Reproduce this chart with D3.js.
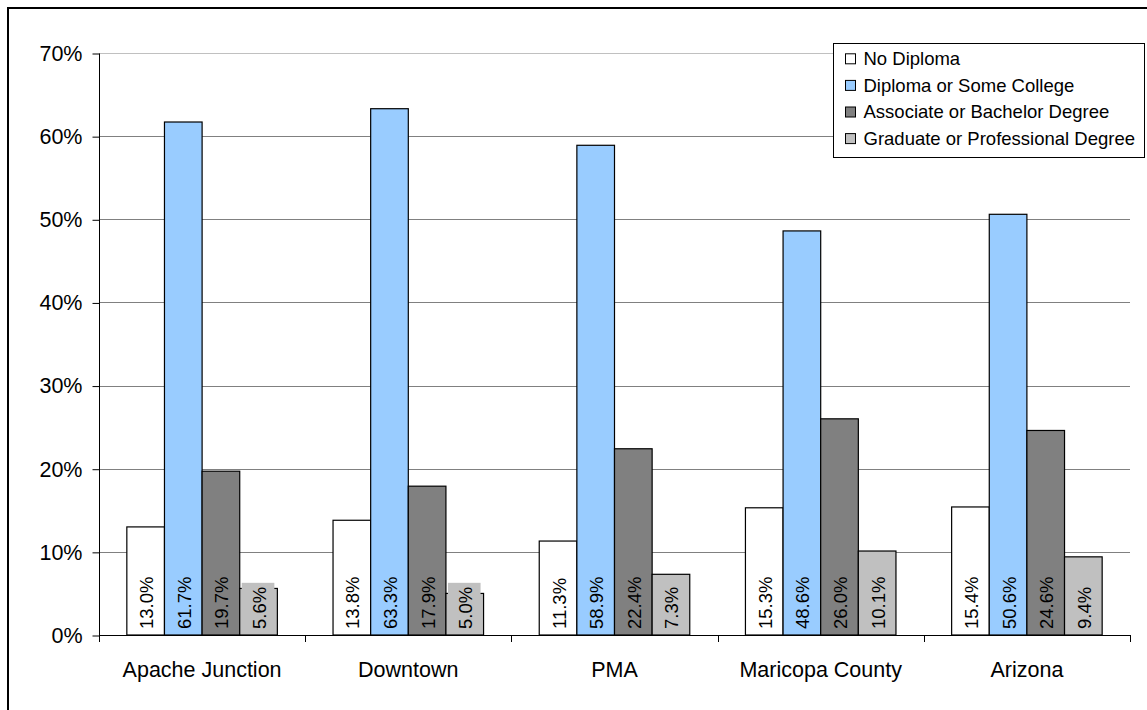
<!DOCTYPE html>
<html><head><meta charset="utf-8">
<script src="https://cdn.jsdelivr.net/npm/d3@7"></script>
<style>html,body{margin:0;padding:0;background:#fff;overflow:hidden}</style>
</head><body>
<svg id="chart" width="1147" height="710"></svg>
<script>
const categories = ["Apache Junction", "Downtown", "PMA", "Maricopa County", "Arizona"];
const seriesNames = ["No Diploma", "Diploma or Some College", "Associate or Bachelor Degree", "Graduate or Professional Degree"];
const noDiploma = [13.0, 13.8, 11.3, 15.3, 15.4];
const diplomaSomeCollege = [61.7, 63.3, 58.9, 48.6, 50.6];
const associateBachelor = [19.7, 17.9, 22.4, 26.0, 24.6];
const graduateProfessional = [5.6, 5.0, 7.3, 10.1, 9.4];
const yTicks = [0, 10, 20, 30, 40, 50, 60, 70];
const colors = ["#ffffff", "#99ccff", "#808080", "#c0c0c0"];

(function () {
const seriesValues = [noDiploma, diplomaSomeCollege, associateBachelor, graduateProfessional];
const font = "'Liberation Sans', Arial, sans-serif";
const svg = d3.select("#chart");

// outer frame
svg.append("rect").attr("x", 8).attr("y", 8).attr("width", 1160).attr("height", 730)
  .attr("fill", "none").attr("stroke", "#000").attr("stroke-width", 2);

const pLeft = 99, pRight = 1130, pTop = 53, pBottom = 635;
const x0 = d3.scaleBand().domain(categories).range([pLeft, pRight]).padding(0);
const x1 = d3.scaleBand().domain(d3.range(seriesNames.length))
  .range([x0.bandwidth() * 0.135, x0.bandwidth() * 0.865]).padding(0);
const y = d3.scaleLinear().domain([0, 70]).range([pBottom, pTop]);

// gridlines
svg.append("g").selectAll("line").data(yTicks.filter(d => d > 0)).join("line")
  .attr("x1", pLeft).attr("x2", pRight)
  .attr("y1", d => Math.round(y(d)) + 0.5).attr("y2", d => Math.round(y(d)) + 0.5)
  .attr("stroke", d => d === 70 ? "#c0c0c0" : "#808080").attr("stroke-width", 1);

// y axis
const yAxis = d3.axisLeft(y).tickValues(yTicks).tickFormat(d => d + "%").tickSize(7).tickPadding(10);
const gy = svg.append("g").attr("transform", `translate(${pLeft + 0.5},0.5)`).call(yAxis);
gy.select(".domain").attr("stroke", "#000").attr("d", `M0,${y(70)}V${y(0)}`);
gy.selectAll(".tick line").attr("stroke", "#000");
gy.selectAll(".tick text").attr("font-family", font).attr("font-size", "21.5px").attr("fill", "#000");

// bars
const groups = svg.append("g").selectAll("g").data(categories).join("g")
  .attr("transform", d => `translate(${x0(d)},0)`);

const cells = groups.selectAll("g.cell")
  .data((c, ci) => seriesValues.map((vals, si) => ({ si, v: vals[ci] })))
  .join("g").attr("class", "cell");

cells.append("rect")
  .attr("x", d => x1(d.si)).attr("width", x1.bandwidth())
  .attr("y", d => y(d.v)).attr("height", d => y(0) - y(d.v))
  .attr("fill", d => colors[d.si]).attr("stroke", "#000").attr("stroke-width", 1.2);

const labelFs = 18.5;
// label background boxes (same colour as bar, as in the source)
cells.append("rect")
  .attr("x", d => x1(d.si) + 2).attr("width", x1.bandwidth() - 5)
  .each(function (d) {
    const txt = d.v.toFixed(1) + "%";
    const tmp = svg.append("text").attr("font-family", font).attr("font-size", labelFs + "px").text(txt);
    const w = tmp.node().getComputedTextLength();
    tmp.remove();
    const topY = (pBottom - 6) - w - 4;
    d3.select(this).attr("y", topY).attr("height", pBottom - 2 - topY);
  })
  .attr("fill", d => colors[d.si]);

cells.append("text")
  .attr("transform", d => `translate(${x1(d.si) + x1.bandwidth() / 2 + 1},${pBottom - 6}) rotate(-90)`)
  .attr("dy", "0.35em")
  .attr("font-family", font).attr("font-size", labelFs + "px").attr("fill", "#000")
  .text(d => d.v.toFixed(1) + "%");

// x axis
const xAxisG = svg.append("g");
xAxisG.append("line").attr("x1", pLeft).attr("x2", pRight)
  .attr("y1", pBottom + 0.5).attr("y2", pBottom + 0.5).attr("stroke", "#000");
const boundaries = categories.map(c => x0(c)).concat([pRight]);
xAxisG.selectAll("line.tk").data(boundaries).join("line").attr("class", "tk")
  .attr("x1", d => Math.round(d) + 0.5).attr("x2", d => Math.round(d) + 0.5)
  .attr("y1", pBottom).attr("y2", pBottom + 7).attr("stroke", "#000");
xAxisG.selectAll("text").data(categories).join("text")
  .attr("x", d => x0(d) + x0.bandwidth() / 2).attr("y", 677)
  .attr("text-anchor", "middle").attr("font-family", font).attr("font-size", "21.5px")
  .attr("fill", "#000").text(d => d);

// legend
const lg = svg.append("g");
lg.append("rect").attr("x", 833.5).attr("y", 43.5).attr("width", 311).attr("height", 114)
  .attr("fill", "#fff").attr("stroke", "#000").attr("stroke-width", 1);
const items = lg.selectAll("g.item").data(seriesNames).join("g").attr("class", "item")
  .attr("transform", (d, i) => `translate(0,${58.8 + i * 26.6})`);
items.append("rect").attr("x", 845.5).attr("y", -5).attr("width", 10).attr("height", 10)
  .attr("fill", (d, i) => colors[i]).attr("stroke", "#000").attr("stroke-width", 1);
items.append("text").attr("x", 863.5).attr("y", 0).attr("dy", "0.35em")
  .attr("font-family", font).attr("font-size", "18.5px").attr("fill", "#000").text(d => d);
})();
</script>
</body></html>
